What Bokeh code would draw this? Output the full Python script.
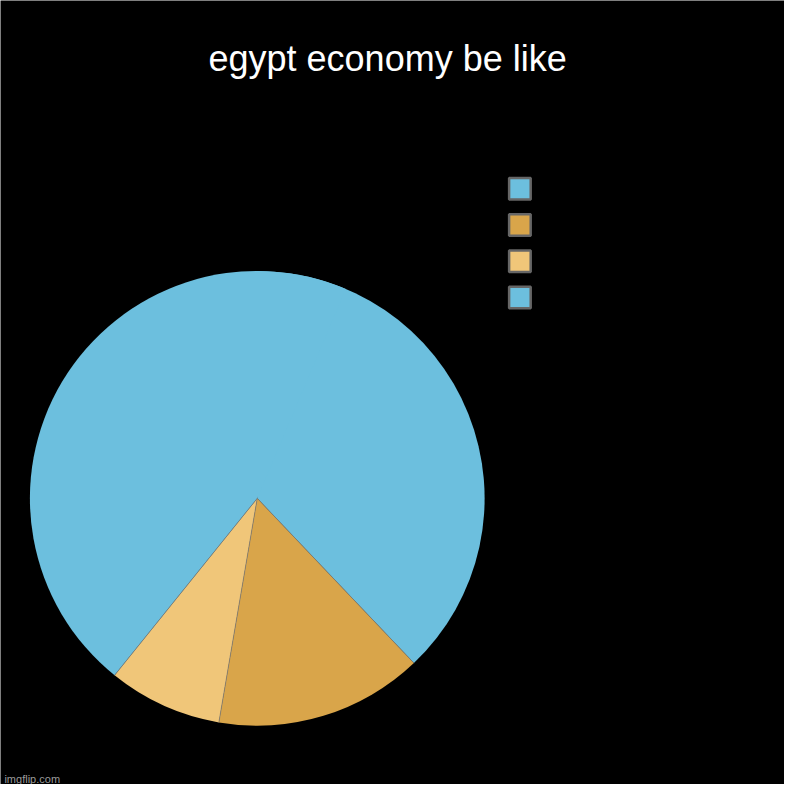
import numpy as np
from bokeh.plotting import figure
from bokeh.models import Range1d, Label
from bokeh.embed import file_html
from bokeh.resources import INLINE

# ---- data ----
title_text = "egypt economy be like"
labels = ["", "", "", ""]
values = [37.9, 14.8, 8.1, 39.2]
colors = ["#6CBFDE", "#D9A54A", "#F0C679", "#6CBFDE"]

W = H = 784
S = W / 800.0
p = figure(width=W, height=H, output_backend="svg", toolbar_location=None,
           x_range=Range1d(0, W), y_range=Range1d(0, H),
           min_border=0, background_fill_color="black", border_fill_color="black",
           outline_line_color=None)
p.axis.visible = False
p.grid.visible = False

def Y(ref_y):
    return H - ref_y * S

def X(ref_x):
    return ref_x * S

cx, cy, r = X(262), Y(508), 232 * S

vals = np.array(values, dtype=float)
frac = vals / vals.sum()
cum = np.concatenate([[0], np.cumsum(frac)])
start = np.pi / 2 - cum[1:] * 2 * np.pi
end = np.pi / 2 - cum[:-1] * 2 * np.pi
# overlap a wedge into its clockwise neighbour when both share a colour (hides the seam)
n = len(values)
for i in range(n):
    if colors[i] == colors[(i + 1) % n]:
        start[i] -= 0.4

p.wedge(x=cx, y=cy, radius=r, start_angle=start, end_angle=end,
        direction="anticlock", fill_color=colors, line_color=None)

# borders between slices of different colour
bx0, by0, bx1, by1 = [], [], [], []
for i in range(1, n):
    if colors[i] != colors[i - 1]:
        a = np.pi / 2 - cum[i] * 2 * np.pi
        bx0.append(cx); by0.append(cy)
        bx1.append(cx + r * np.cos(a)); by1.append(cy + r * np.sin(a))
p.segment(x0=bx0, y0=by0, x1=bx1, y1=by1, line_color="#7a7a7a", line_width=0.7)

# legend squares
lx = X(530)
ly = [Y(192 + 37 * i) for i in range(n)]
p.rect(x=[lx] * n, y=ly, width=22 * S, height=22 * S,
       fill_color=colors, line_color="#666666", line_width=2.5)

p.add_layout(Label(x=X(395), y=Y(59), text=title_text, text_align="center",
                   text_baseline="alphabetic", text_color="white",
                   text_font="Liberation Sans", text_font_size="36px"))
p.add_layout(Label(x=X(4), y=Y(794), text="imgflip.com", text_align="left",
                   text_baseline="alphabetic", text_color="#9a9a9a",
                   text_font="Liberation Sans", text_font_size="11px"))

open("out.html", "w").write(file_html(p, INLINE))
